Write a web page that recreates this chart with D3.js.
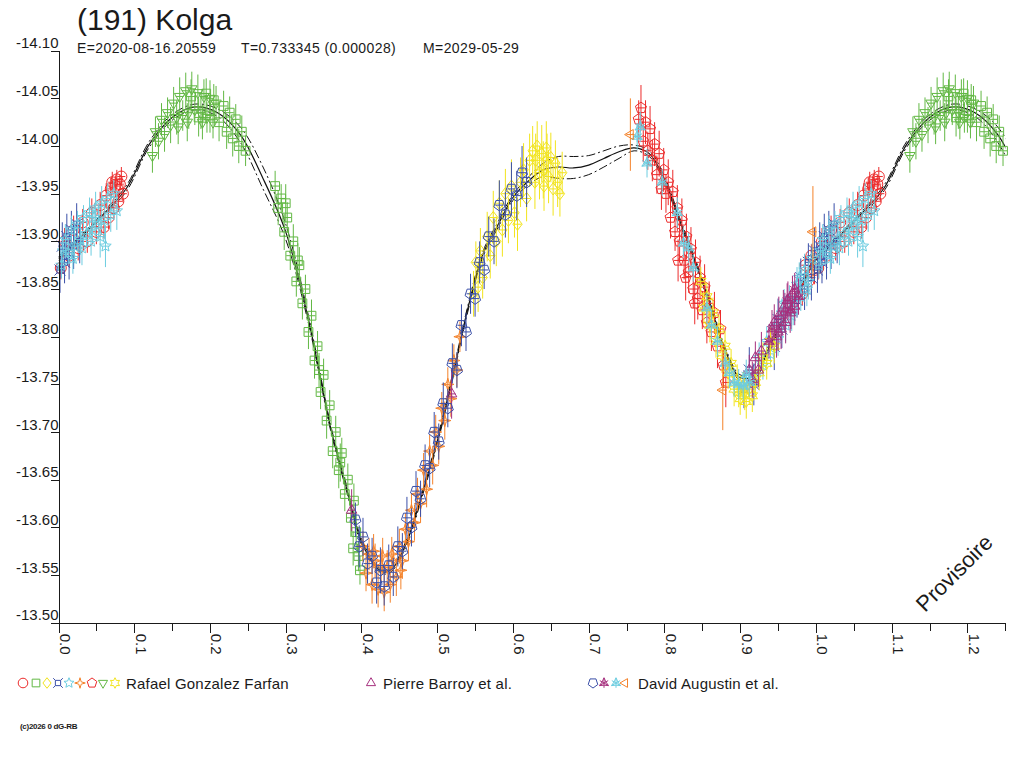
<!DOCTYPE html>
<html><head><meta charset="utf-8">
<script src="https://cdn.jsdelivr.net/npm/d3@7"></script>
<style>
html,body{margin:0;padding:0;background:#fff;}
svg{display:block;font-family:"Liberation Sans",Arial,sans-serif;}
</style></head><body>
<svg id="chart" width="1024" height="768"></svg>
<script>
// ---------- texts ----------
const titleText = "(191) Kolga";
const epochText = "E=2020-08-16.20559";
const periodText = "T=0.733345 (0.000028)";
const modelDateText = "M=2029-05-29";
const stampText = "Provisoire";
const copyrightText = "(c)2026 0 dG-RB";

// ---------- axes ----------
const yTicks = [-14.10,-14.05,-14.00,-13.95,-13.90,-13.85,-13.80,-13.75,-13.70,-13.65,-13.60,-13.55,-13.50];
const xMajorTicks = [0.0,0.1,0.2,0.3,0.4,0.5,0.6,0.7,0.8,0.9,1.0,1.1,1.2];
const xMinorTicks = [0.05,0.15,0.25,0.35,0.45,0.55,0.65,0.75,0.85,0.95,1.05,1.15,1.25];
const phaseDomain = [0, 1.25];
const magDomain = [-14.10, -13.50];

// ---------- model curve (one period) ----------
const modelPhase = [0.00,0.03,0.06,0.09,0.12,0.15,0.18,0.21,0.24,0.27,0.30,0.33,0.36,0.38,0.40,0.42,0.43,0.44,0.46,0.48,0.50,0.52,0.54,0.56,0.58,0.60,0.62,0.64,0.66,0.68,0.70,0.72,0.74,0.76,0.78,0.80,0.82,0.84,0.86,0.88,0.90,0.92,0.94,0.96,0.98];
const modelMag = [-13.882,-13.905,-13.929,-13.956,-14.002,-14.030,-14.041,-14.035,-14.012,-13.966,-13.910,-13.818,-13.702,-13.642,-13.585,-13.558,-13.553,-13.556,-13.585,-13.635,-13.690,-13.757,-13.828,-13.886,-13.917,-13.946,-13.963,-13.975,-13.978,-13.977,-13.980,-13.987,-13.994,-13.998,-13.992,-13.965,-13.922,-13.880,-13.835,-13.786,-13.757,-13.760,-13.792,-13.822,-13.852];
const modelUpper = [-13.884,-13.907,-13.931,-13.959,-14.005,-14.033,-14.044,-14.039,-14.020,-13.978,-13.918,-13.822,-13.705,-13.645,-13.588,-13.560,-13.555,-13.558,-13.588,-13.638,-13.693,-13.760,-13.831,-13.889,-13.920,-13.949,-13.967,-13.982,-13.989,-13.989,-13.990,-13.995,-14.000,-14.001,-13.995,-13.968,-13.925,-13.883,-13.838,-13.789,-13.760,-13.763,-13.795,-13.825,-13.855];
const modelLower = [-13.880,-13.903,-13.927,-13.953,-13.999,-14.027,-14.038,-14.031,-14.004,-13.955,-13.902,-13.814,-13.699,-13.639,-13.582,-13.556,-13.551,-13.554,-13.582,-13.632,-13.687,-13.754,-13.825,-13.883,-13.914,-13.943,-13.959,-13.968,-13.966,-13.966,-13.970,-13.978,-13.987,-13.995,-13.989,-13.962,-13.919,-13.877,-13.832,-13.783,-13.754,-13.757,-13.789,-13.819,-13.849];

// ---------- observations [phase, mag, err] ----------
// Rafael Gonzalez Farfan
const rgfCircles = [[0.982,-13.845,0.012],[0.986,-13.875,0.010],[0.990,-13.858,0.014],[0.994,-13.885,0.012],[0.998,-13.870,0.015],
 [0.003,-13.872,0.012],[0.008,-13.900,0.014],[0.014,-13.885,0.012],[0.020,-13.912,0.015],[0.026,-13.893,0.013],[0.032,-13.920,0.014],[0.038,-13.900,0.012],[0.044,-13.930,0.015],[0.050,-13.910,0.013],[0.055,-13.938,0.014],[0.060,-13.915,0.012],[0.063,-13.948,0.013],[0.066,-13.925,0.012],[0.069,-13.955,0.012],[0.071,-13.962,0.011],[0.073,-13.935,0.010],[0.075,-13.958,0.011],[0.077,-13.965,0.010],[0.079,-13.942,0.011],[0.081,-13.960,0.010],[0.083,-13.968,0.010],[0.085,-13.950,0.009]];
const rgfSquares = [[0.175,-14.052,0.018],[0.185,-14.030,0.020],[0.195,-14.055,0.016],[0.200,-14.032,0.018],[0.205,-14.048,0.017],[0.212,-14.025,0.020],[0.218,-14.042,0.016],[0.222,-14.015,0.018],[0.226,-14.035,0.017],[0.230,-14.008,0.019],[0.234,-14.028,0.016],[0.238,-14.000,0.018],[0.242,-14.015,0.017],[0.247,-13.995,0.016],
 [0.286,-13.958,0.016],[0.290,-13.935,0.018],[0.294,-13.945,0.015],[0.298,-13.910,0.019],[0.300,-13.940,0.020],[0.302,-13.925,0.016],[0.306,-13.885,0.015],[0.310,-13.900,0.018],[0.314,-13.858,0.016],[0.316,-13.880,0.018],[0.318,-13.875,0.019],[0.322,-13.835,0.017],[0.326,-13.850,0.015],[0.330,-13.805,0.018],[0.334,-13.822,0.017],[0.338,-13.775,0.019],[0.342,-13.790,0.016],[0.344,-13.765,0.018],[0.346,-13.742,0.018],[0.350,-13.760,0.017],[0.354,-13.712,0.019],[0.358,-13.728,0.016],[0.362,-13.680,0.018],[0.366,-13.700,0.017],[0.370,-13.660,0.019],[0.372,-13.668,0.020],[0.374,-13.678,0.016],[0.378,-13.635,0.018],[0.382,-13.650,0.017],[0.386,-13.610,0.020],[0.389,-13.578,0.018],[0.390,-13.628,0.018],[0.393,-13.595,0.019],[0.396,-13.570,0.016],[0.398,-13.555,0.015]];
const rgfDiamonds = [[0.548,-13.845,0.024],[0.551,-13.878,0.022],[0.554,-13.852,0.026],[0.557,-13.890,0.024],[0.560,-13.862,0.022],[0.566,-13.905,0.026],[0.570,-13.885,0.024],[0.574,-13.925,0.028],[0.578,-13.900,0.026],[0.582,-13.940,0.024],[0.586,-13.912,0.028],[0.590,-13.950,0.026],[0.594,-13.922,0.024],[0.598,-13.958,0.028],[0.602,-13.930,0.026],[0.606,-13.918,0.028],[0.610,-13.962,0.026],[0.614,-13.975,0.028],[0.618,-13.945,0.024],[0.622,-13.985,0.028],[0.626,-13.995,0.026],[0.629,-13.962,0.028],[0.630,-13.985,0.028],[0.632,-14.000,0.026],[0.635,-13.972,0.028],[0.638,-13.992,0.030],[0.640,-13.975,0.030],[0.641,-13.958,0.026],[0.644,-13.998,0.028],[0.645,-13.985,0.028],[0.647,-13.968,0.028],[0.650,-13.988,0.026],[0.653,-13.955,0.028],[0.656,-13.982,0.024],[0.659,-13.962,0.026],[0.662,-13.950,0.024],[0.665,-13.972,0.022]];
const rgfBowties = [[0.905,-13.745,0.020],[0.912,-13.765,0.024],[0.918,-13.750,0.022],[0.945,-13.790,0.025],[0.950,-13.818,0.022],[0.955,-13.808,0.020],[0.975,-13.838,0.018],[0.980,-13.862,0.020],[0.985,-13.850,0.022],[0.990,-13.878,0.020],[0.994,-13.862,0.024],[0.998,-13.890,0.025],
 [0.002,-13.870,0.024],[0.005,-13.895,0.025],[0.008,-13.878,0.022],[0.011,-13.905,0.024],[0.014,-13.885,0.025],[0.017,-13.912,0.020],[0.020,-13.895,0.024],[0.024,-13.918,0.022],[0.028,-13.900,0.023]];
const rgfStars = [[0.004,-13.875,0.014],[0.006,-13.890,0.014],[0.009,-13.902,0.016],[0.013,-13.888,0.012],[0.017,-13.912,0.015],[0.019,-13.882,0.016],[0.021,-13.895,0.018],[0.025,-13.918,0.014],[0.029,-13.902,0.016],[0.031,-13.893,0.018],[0.033,-13.925,0.013],[0.037,-13.908,0.015],[0.041,-13.930,0.016],[0.043,-13.900,0.015],[0.045,-13.912,0.014],[0.047,-13.925,0.014],[0.049,-13.935,0.017],[0.053,-13.918,0.016],[0.055,-13.905,0.022],[0.057,-13.940,0.018],[0.061,-13.922,0.020],[0.062,-13.895,0.022],[0.065,-13.945,0.016],[0.069,-13.928,0.018],[0.073,-13.950,0.014],[0.077,-13.932,0.020],
 [0.920,-13.758,0.014],[0.925,-13.778,0.016],[0.930,-13.770,0.015],[0.935,-13.795,0.016],[0.940,-13.782,0.014],[0.945,-13.810,0.016],[0.950,-13.798,0.018],[0.955,-13.825,0.015],[0.958,-13.835,0.015],[0.960,-13.812,0.017],[0.965,-13.840,0.014],[0.968,-13.822,0.016],[0.970,-13.828,0.016],[0.975,-13.855,0.018],[0.978,-13.862,0.016],[0.980,-13.842,0.015],[0.985,-13.870,0.017],[0.988,-13.850,0.018],[0.990,-13.858,0.019],[0.995,-13.882,0.016]];
const rgfSparks = [[0.402,-13.580,0.016],[0.406,-13.552,0.019],[0.410,-13.572,0.017],[0.414,-13.540,0.020],[0.416,-13.575,0.018],[0.418,-13.565,0.018],[0.422,-13.535,0.019],[0.426,-13.560,0.017],[0.428,-13.570,0.019],[0.430,-13.532,0.020],[0.434,-13.558,0.018],[0.438,-13.540,0.019],[0.440,-13.572,0.018],[0.442,-13.565,0.017],[0.446,-13.548,0.020],[0.450,-13.580,0.018],[0.452,-13.555,0.020],[0.454,-13.565,0.019],[0.458,-13.598,0.017],[0.462,-13.585,0.020],[0.466,-13.618,0.018],[0.470,-13.605,0.019],[0.474,-13.635,0.017],[0.478,-13.625,0.020],[0.482,-13.660,0.018],[0.486,-13.640,0.019],[0.490,-13.680,0.017],[0.494,-13.665,0.020],[0.498,-13.700,0.018],[0.502,-13.685,0.019],[0.506,-13.725,0.017],[0.510,-13.712,0.020],[0.514,-13.750,0.018],[0.518,-13.735,0.019],[0.522,-13.775,0.017],[0.526,-13.765,0.018],[0.530,-13.800,0.016]];
const rgfPentagons = [[0.766,-14.028,0.020],[0.769,-14.040,0.024],[0.772,-14.005,0.022],[0.775,-14.025,0.023],[0.778,-13.995,0.020],[0.781,-14.018,0.024],[0.784,-13.985,0.022],[0.787,-14.002,0.023],[0.790,-13.970,0.020],[0.793,-13.992,0.024],[0.796,-13.955,0.022],[0.799,-13.975,0.023],[0.802,-13.950,0.020],[0.805,-13.962,0.024],[0.808,-13.925,0.022],[0.811,-13.952,0.023],[0.814,-13.910,0.020],[0.817,-13.935,0.024],[0.818,-13.880,0.022],[0.820,-13.900,0.022],[0.823,-13.922,0.023],[0.826,-13.880,0.020],[0.828,-13.862,0.024],[0.829,-13.905,0.024],[0.832,-13.868,0.022],[0.835,-13.892,0.023],[0.838,-13.850,0.020],[0.840,-13.835,0.022],[0.841,-13.878,0.024],[0.844,-13.840,0.022],[0.847,-13.862,0.023],[0.850,-13.828,0.020],[0.853,-13.852,0.024],[0.856,-13.815,0.022],[0.859,-13.835,0.023],[0.862,-13.805,0.020],[0.866,-13.825,0.022],[0.870,-13.790,0.023],[0.874,-13.808,0.020],[0.878,-13.770,0.024],[0.881,-13.752,0.026]];
const rgfTrianglesDown = [[0.124,-13.990,0.018],[0.128,-14.015,0.016],[0.132,-14.005,0.019],[0.136,-14.028,0.017],[0.140,-14.012,0.018],[0.144,-14.035,0.016],[0.148,-14.022,0.019],[0.152,-14.045,0.017],[0.156,-14.030,0.018],[0.158,-14.020,0.018],[0.160,-14.052,0.020],[0.164,-14.032,0.016],[0.168,-14.058,0.019],[0.170,-14.025,0.020],[0.172,-14.035,0.017],[0.176,-14.060,0.018],[0.180,-14.038,0.016],[0.184,-14.056,0.019],[0.188,-14.035,0.017],[0.190,-14.025,0.018],[0.192,-14.052,0.018],[0.196,-14.030,0.016],[0.200,-14.050,0.019],[0.204,-14.025,0.017],[0.208,-14.045,0.018]];
const rgfHexStars = [[0.848,-13.858,0.015],[0.852,-13.830,0.017],[0.856,-13.842,0.015],[0.860,-13.812,0.018],[0.864,-13.825,0.016],[0.868,-13.795,0.017],[0.872,-13.808,0.015],[0.876,-13.780,0.018],[0.880,-13.790,0.016],[0.884,-13.762,0.017],[0.888,-13.772,0.015],[0.892,-13.745,0.018],[0.896,-13.755,0.016],[0.898,-13.742,0.016],[0.900,-13.735,0.017],[0.904,-13.748,0.015],[0.906,-13.740,0.017],[0.908,-13.732,0.018],[0.912,-13.745,0.016],[0.916,-13.738,0.017],[0.920,-13.752,0.015],[0.925,-13.762,0.018],[0.930,-13.778,0.016],[0.935,-13.772,0.017],[0.940,-13.795,0.015],[0.945,-13.790,0.018]];
// Pierre Barroy et al.
const barroyTriangles = [[0.387,-13.618,0.022],[0.519,-13.740,0.026],[0.912,-13.765,0.016],[0.916,-13.755,0.019],[0.920,-13.778,0.017],[0.924,-13.765,0.018],[0.928,-13.785,0.020],[0.945,-13.815,0.019],[0.948,-13.800,0.022],[0.950,-13.805,0.020],[0.951,-13.822,0.020],[0.954,-13.808,0.021],[0.957,-13.830,0.019],[0.959,-13.826,0.020],[0.960,-13.815,0.022],[0.963,-13.838,0.020],[0.966,-13.825,0.021],[0.969,-13.845,0.019],[0.972,-13.832,0.020]];
// David Augustin et al.
const augustinShields = [[0.392,-13.608,0.018],[0.397,-13.580,0.022],[0.402,-13.590,0.020],[0.408,-13.562,0.021],[0.414,-13.570,0.019],[0.420,-13.542,0.022],[0.425,-13.555,0.024],[0.430,-13.538,0.020],[0.436,-13.560,0.022],[0.442,-13.548,0.020],[0.448,-13.580,0.021],[0.454,-13.575,0.019],[0.460,-13.610,0.022],[0.466,-13.600,0.020],[0.472,-13.638,0.021],[0.478,-13.630,0.019],[0.484,-13.665,0.022],[0.490,-13.662,0.020],[0.496,-13.700,0.021],[0.502,-13.690,0.019],[0.508,-13.730,0.022],[0.514,-13.725,0.020],[0.520,-13.772,0.021],[0.526,-13.765,0.019],[0.532,-13.812,0.022],[0.538,-13.805,0.020],[0.544,-13.845,0.021],[0.550,-13.840,0.019],[0.556,-13.878,0.022],[0.562,-13.870,0.020],[0.568,-13.905,0.021],[0.575,-13.900,0.024],[0.582,-13.938,0.026],[0.590,-13.928,0.024],[0.598,-13.955,0.028],[0.605,-13.948,0.026],[0.612,-13.972,0.028],[0.618,-13.962,0.026]];
const augustinMagenta = [[0.938,-13.795,0.018],[0.942,-13.808,0.020],[0.962,-13.838,0.018],[0.967,-13.828,0.020],[0.972,-13.850,0.017],[0.977,-13.842,0.019]];
const augustinCyan = [[0.764,-14.010,0.014],[0.768,-14.020,0.016],[0.777,-13.982,0.015],[0.797,-13.962,0.014],[0.817,-13.930,0.016],[0.825,-13.898,0.015],[0.832,-13.893,0.016],[0.838,-13.872,0.014],[0.856,-13.830,0.016],[0.862,-13.812,0.015],[0.870,-13.795,0.016],[0.880,-13.772,0.014],[0.886,-13.762,0.016],[0.892,-13.752,0.015],[0.898,-13.750,0.016],[0.904,-13.748,0.014],[0.908,-13.760,0.016],[0.912,-13.752,0.015]];
const augustinLeftTriangles = [[0.755,-14.012,0.038],[0.877,-13.744,0.042],[0.996,-13.910,0.048]];

// ---------- legend ----------
const observerNames = ["Rafael Gonzalez Farfan", "Pierre Barroy et al.", "David Augustin et al."];

// ---------- styles (kept apart from data) ----------
const C = {red:"#ec2b2b", green:"#62b844", yellow:"#f2e41c", blue:"#3a4fa8", cyan:"#6ccde0", orange:"#f4822a", purple:"#a6307e"};
const series = [
  {data: rgfCircles, color: C.red, shape: "circle"},
  {data: rgfSquares, color: C.green, shape: "square"},
  {data: rgfDiamonds, color: C.yellow, shape: "diamond"},
  {data: rgfBowties, color: C.blue, shape: "bowtie"},
  {data: rgfStars, color: C.cyan, shape: "star5"},
  {data: rgfSparks, color: C.orange, shape: "spark"},
  {data: rgfPentagons, color: C.red, shape: "pentagon"},
  {data: rgfTrianglesDown, color: C.green, shape: "triDown"},
  {data: rgfHexStars, color: C.yellow, shape: "star6"},
  {data: barroyTriangles, color: C.purple, shape: "triUp"},
  {data: augustinShields, color: C.blue, shape: "shield"},
  {data: augustinMagenta, color: C.purple, shape: "asterisk"},
  {data: augustinCyan, color: C.cyan, shape: "asterisk"},
  {data: augustinLeftTriangles, color: C.orange, shape: "triLeft"}
];

// ---------- shapes ----------
function poly(pts){ return "M" + pts.map(p => p[0].toFixed(2)+","+p[1].toFixed(2)).join("L") + "Z"; }
function regular(n, r, rot){ const a=[]; for(let i=0;i<n;i++){const t=rot+i*2*Math.PI/n; a.push([r*Math.sin(t), -r*Math.cos(t)]);} return a; }
function starPts(n, r1, r2, rot){ const a=[]; for(let i=0;i<2*n;i++){const t=rot+i*Math.PI/n; const r=i%2?r2:r1; a.push([r*Math.sin(t), -r*Math.cos(t)]);} return a; }
function shapePath(name, r){
  switch(name){
    case "circle": return `M${r},0A${r},${r} 0 1,1 ${-r},0A${r},${r} 0 1,1 ${r},0Z`;
    case "square": { const s=r*0.8; return poly([[-s,-s],[s,-s],[s,s],[-s,s]]); }
    case "diamond": return poly([[0,-r*1.1],[r*0.85,0],[0,r*1.1],[-r*0.85,0]]);
    case "bowtie": { const s=r*0.55; return poly([[-s,-s],[s,-s],[s,s],[-s,s]]) + `M${-s},${-s}L${-r},${-r}M${s},${-s}L${r},${-r}M${s},${s}L${r},${r}M${-s},${s}L${-r},${r}`; }
    case "star5": return poly(starPts(5, r*1.1, r*0.5, 0));
    case "spark": return poly(starPts(4, r*1.1, r*0.35, 0));
    case "pentagon": return poly(regular(5, r*1.05, 0));
    case "triDown": return poly(regular(3, r*1.1, Math.PI));
    case "star6": return poly(starPts(6, r*1.1, r*0.6, 0));
    case "triUp": return poly(regular(3, r*1.1, 0));
    case "shield": return poly(regular(5, r*1.05, Math.PI));
    case "asterisk": return poly(starPts(3, r*1.1, r*0.45, 0)) + `M0,${-r}L0,${r}M${-r*0.87},${-r*0.5}L${r*0.87},${r*0.5}M${r*0.87},${-r*0.5}L${-r*0.87},${r*0.5}`;
    case "triLeft": return poly(regular(3, r*1.05, -Math.PI/2));
  }
}

// ---------- scales ----------
const svg = d3.select("#chart");
const x = d3.scaleLinear().domain(phaseDomain).range([58.5, 1005.3]);
const y = d3.scaleLinear().domain(magDomain).range([50.7, 622.7]);
const ink = "#1a1a1a";

svg.append("defs").append("clipPath").attr("id","plotclip")
  .append("rect").attr("x", x(0)).attr("y", 0).attr("width", x(1.25)-x(0)).attr("height", y(-13.50));

// ---------- model curves ----------
function extended(vals){
  const pts = [];
  for (let k=0;k<2;k++) modelPhase.forEach((p,i)=>{ const ph=p+k; if (ph<=1.32) pts.push([ph, vals[i]]); });
  return pts;
}
const line = d3.line().x(d=>x(d[0])).y(d=>y(d[1])).curve(d3.curveCatmullRom.alpha(0.5));
const curves = svg.append("g").attr("clip-path","url(#plotclip)").attr("fill","none").attr("stroke","#111");
curves.append("path").attr("d", line(extended(modelUpper))).attr("stroke-width",1).attr("stroke-dasharray","9,3,2,3");
curves.append("path").attr("d", line(extended(modelLower))).attr("stroke-width",1).attr("stroke-dasharray","9,3,2,3");
curves.append("path").attr("d", line(extended(modelMag))).attr("stroke-width",1.2);

// ---------- observations ----------
const obsG = svg.append("g");
series.forEach(s => {
  const pts = [];
  s.data.forEach(d => { [0,1].forEach(k => { const ph=d[0]+k; if (ph>=phaseDomain[0] && ph<=phaseDomain[1]) pts.push({ph, m:d[1], e:d[2]}); }); });
  const g = obsG.append("g").attr("stroke", s.color).attr("fill","none").attr("stroke-width",1);
  g.selectAll("line.v").data(pts).join("line").attr("class","v")
    .attr("x1", d=>x(d.ph)).attr("x2", d=>x(d.ph)).attr("y1", d=>y(d.m-d.e)).attr("y2", d=>y(d.m+d.e));
  g.selectAll("line.h").data(pts).join("line").attr("class","h")
    .attr("x1", d=>x(d.ph)-4).attr("x2", d=>x(d.ph)+4).attr("y1", d=>y(d.m)).attr("y2", d=>y(d.m));
  g.selectAll("path").data(pts).join("path")
    .attr("transform", d=>`translate(${x(d.ph)},${y(d.m)})`).attr("d", shapePath(s.shape, 5.5));
});

// ---------- axes ----------
const xAxisG = svg.append("g").attr("transform", `translate(0,${y(-13.50)})`);
xAxisG.call(d3.axisBottom(x).tickValues(xMinorTicks).tickSize(8).tickSizeOuter(0).tickFormat(""));
const xMaj = svg.append("g").attr("transform", `translate(0,${y(-13.50)})`)
  .call(d3.axisBottom(x).tickValues(xMajorTicks).tickSize(10).tickSizeOuter(0).tickFormat(d=>d.toFixed(1)));
xMaj.select(".domain").remove();
xMaj.selectAll("text").attr("x",0).attr("y",0).attr("dy",null).attr("text-anchor","start")
  .attr("transform","translate(1,11) rotate(90)").attr("font-size",15).attr("fill",ink).attr("font-family",null);
const yAx = svg.append("g").attr("transform", `translate(${x(0)},0)`)
  .call(d3.axisLeft(y).tickValues(yTicks).tickSize(8).tickSizeOuter(0).tickFormat(d=>d.toFixed(2)));
yAx.selectAll("text").attr("x",0).attr("y",-3).attr("dy",null).attr("text-anchor","end")
  .attr("font-size",15).attr("fill",ink).attr("font-family",null);
svg.selectAll(".domain, .tick line").attr("stroke", ink).attr("shape-rendering","crispEdges");

// ---------- titles ----------
svg.append("text").attr("x",77).attr("y",30).attr("font-size",30).attr("fill",ink).text(titleText);
const sub = svg.append("g").attr("font-size",14).attr("fill",ink).attr("letter-spacing",0.4);
sub.append("text").attr("x",77).attr("y",53).text(epochText);
sub.append("text").attr("x",241).attr("y",53).text(periodText);
sub.append("text").attr("x",423).attr("y",53).text(modelDateText);

// ---------- stamp ----------
svg.append("text").attr("transform","translate(925,613) rotate(-45)").attr("font-size",22).attr("fill",ink).text(stampText);

// ---------- legend ----------
const legendSymbolX = [23,36,47,58,69,80,92,103,115, 371, 593,604,616,625];
const legendTextX = [126, 383, 638];
const legG = svg.append("g");
series.forEach((s,i) => {
  legG.append("path").attr("transform",`translate(${legendSymbolX[i]},683)`).attr("d", shapePath(s.shape, 4.8))
    .attr("fill","none").attr("stroke", s.color).attr("stroke-width",1);
});
observerNames.forEach((n,i) => {
  legG.append("text").attr("x", legendTextX[i]).attr("y", 689).attr("font-size",15).attr("letter-spacing",0.2).attr("fill",ink).text(n);
});

// ---------- copyright ----------
svg.append("text").attr("x",20).attr("y",729).attr("font-size",8).attr("font-weight","bold").attr("letter-spacing",-0.3).attr("fill",ink).text(copyrightText);
</script>
</body></html>
